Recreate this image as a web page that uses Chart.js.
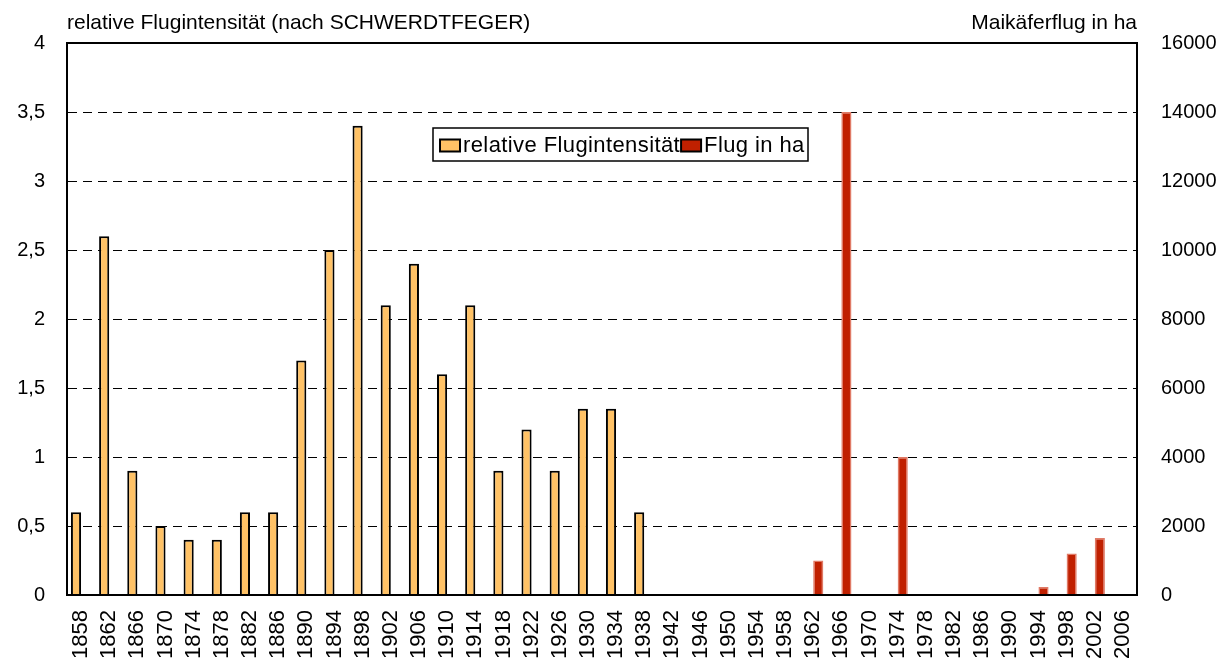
<!DOCTYPE html>
<html><head><meta charset="utf-8">
<script src="https://cdn.jsdelivr.net/npm/chart.js@4.4.1/dist/chart.umd.min.js"></script>
<style>html,body{margin:0;padding:0;background:#fff}#wrap{width:1232px;height:659px;position:relative}</style>
</head><body><div id="wrap"><canvas id="c"></canvas></div>
<script>
const years = ['1858','1862','1866','1870','1874','1878','1882','1886','1890','1894','1898','1902','1906','1910','1914','1918','1922','1926','1930','1934','1938','1942','1946','1950','1954','1958','1962','1966','1970','1974','1978','1982','1986','1990','1994','1998','2002','2006'];
const relIntensity = [0.6,2.6,0.9,0.5,0.4,0.4,0.6,0.6,1.7,2.5,3.4,2.1,2.4,1.6,2.1,0.9,1.2,0.9,1.35,1.35,0.6,null,null,null,null,null,null,null,null,null,null,null,null,null,null,null,null,null];
const flugHa = [null,null,null,null,null,null,null,null,null,null,null,null,null,null,null,null,null,null,null,null,null,null,null,null,null,null,1000,14000,null,4000,null,null,null,null,230,1200,1650,null];
const leftTitle = 'relative Flugintensität (nach SCHWERDTFEGER)';
const rightTitle = 'Maikäferflug in ha';
const seriesNames = ['relative Flugintensität','Flug in ha'];

const FONT = '"Liberation Sans", Arial, sans-serif';

const decor = {
  id: 'decor',
  afterDatasetsDraw(chart) {
    const {ctx, chartArea: a} = chart;
    ctx.save();
    ctx.strokeStyle = '#000';
    ctx.lineWidth = 2;
    ctx.strokeRect(a.left, a.top, a.right - a.left, a.bottom - a.top);
    ctx.restore();
  },
  afterDraw(chart) {
    const {ctx, chartArea: a} = chart;
    ctx.save();
    ctx.fillStyle = '#000';
    ctx.font = '21px ' + FONT;
    ctx.textBaseline = 'alphabetic';
    ctx.textAlign = 'left';
    ctx.fillText(leftTitle, a.left, 29);
    ctx.textAlign = 'right';
    ctx.fillText(rightTitle, a.right, 29);
    // legend
    const lx = 433, ly = 128, lw = 375, lh = 33;
    ctx.fillStyle = '#fff';
    ctx.fillRect(lx, ly, lw, lh);
    ctx.strokeStyle = '#000';
    ctx.lineWidth = 1.5;
    ctx.strokeRect(lx, ly, lw, lh);
    ctx.font = '22px ' + FONT;
    try { ctx.letterSpacing = '0.4px'; } catch (e) {}
    ctx.textAlign = 'left';
    ctx.textBaseline = 'middle';
    let x = lx + 7;
    const cy = ly + lh / 2 + 1;
    chart.data.datasets.forEach((ds, i) => {
      ctx.fillStyle = ds.backgroundColor;
      ctx.fillRect(x, cy - 6, 20, 12);
      ctx.strokeStyle = '#000';
      ctx.lineWidth = 2;
      ctx.strokeRect(x, cy - 6, 20, 12);
      x += 23;
      ctx.fillStyle = '#000';
      ctx.fillText(ds.label, x, cy);
      x += ctx.measureText(ds.label).width + 1;
    });
    ctx.restore();
  }
};

new Chart(document.getElementById('c'), {
  type: 'bar',
  data: {
    labels: years,
    datasets: [
      {label: seriesNames[0], data: relIntensity, yAxisID: 'y', backgroundColor: '#FFC266', borderColor: '#000', borderWidth: 2, borderSkipped: 'bottom', categoryPercentage: 0.72, barPercentage: 1.0},
      {label: seriesNames[1], data: flugHa, yAxisID: 'y1', backgroundColor: '#C02000', borderColor: '#E07A66', borderWidth: 1.5, borderSkipped: 'bottom', categoryPercentage: 0.72, barPercentage: 1.0}
    ]
  },
  options: {
    responsive: true,
    maintainAspectRatio: false,
    animation: false,
    layout: {padding: {top: 43, left: 0, right: 0, bottom: 0}},
    plugins: {legend: {display: false}, tooltip: {enabled: false}, title: {display: false}},
    scales: {
      x: {
        grid: {display: false, drawTicks: false},
        border: {display: true, color: '#000', width: 2},
        ticks: {autoSkip: false, maxRotation: 90, minRotation: 90, padding: 15, color: '#000', font: {family: FONT, size: 22}},
        afterFit(s) { s.height = 64; }
      },
      y: {
        position: 'left', min: 0, max: 4,
        grid: {color: '#000', lineWidth: 1, drawTicks: false},
        border: {display: true, color: '#000', width: 2, dash: [9, 6]},
        ticks: {stepSize: 0.5, padding: 22, color: '#000', font: {family: FONT, size: 20},
          callback: v => String(v).replace('.', ',')},
        afterFit(s) { s.width = 67; }
      },
      y1: {
        position: 'right', min: 0, max: 16000,
        grid: {display: false, drawTicks: false},
        border: {display: true, color: '#000', width: 2},
        ticks: {stepSize: 2000, padding: 24, color: '#000', font: {family: FONT, size: 20},
          callback: v => String(v)},
        afterFit(s) { s.width = 95; }
      }
    }
  },
  plugins: [decor]
});
</script></body></html>
